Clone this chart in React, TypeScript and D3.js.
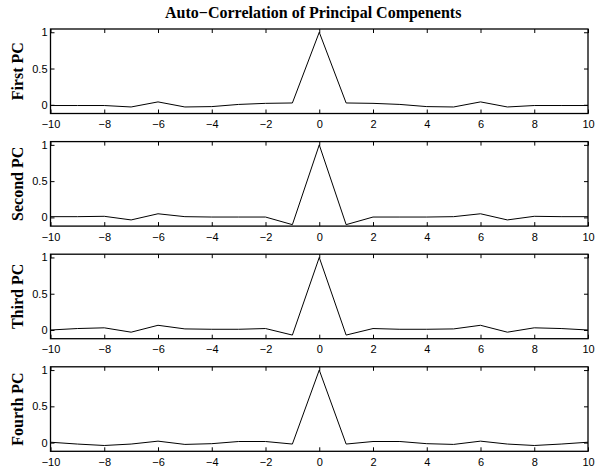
import { useRef, useEffect } from 'react'
import * as d3 from 'd3'

const lags = d3.range(-10, 11)

const panelNames = ['First PC', 'Second PC', 'Third PC', 'Fourth PC']

const firstPC = [-0.01, -0.01, -0.01, -0.03, 0.04, -0.03, -0.025, 0.005, 0.02, 0.025, 1, 0.025, 0.02, 0.005, -0.025, -0.03, 0.04, -0.03, -0.01, -0.01, -0.01]
const secondPC = [0.01, 0.01, 0.015, -0.035, 0.05, 0.01, 0.005, 0.005, 0.005, -0.1, 1, -0.1, 0.005, 0.005, 0.005, 0.01, 0.05, -0.035, 0.015, 0.01, 0.01]
const thirdPC = [0.0, 0.02, 0.03, -0.03, 0.065, 0.015, 0.01, 0.01, 0.02, -0.07, 1, -0.07, 0.02, 0.01, 0.01, 0.015, 0.065, -0.03, 0.03, 0.02, 0.0]
const fourthPC = [0.005, -0.02, -0.04, -0.02, 0.02, -0.025, -0.015, 0.015, 0.015, -0.02, 1, -0.02, 0.015, 0.015, -0.015, -0.025, 0.02, -0.02, -0.04, -0.02, 0.005]

const xTicks = d3.range(-10, 11, 2)
const yTicks = [0, 0.5, 1]

const title = 'Auto\u2212Correlation of Principal Compenents'

const width = 602
const height = 475
const margin = { left: 50.5, right: 14 }
const panelTops = [29, 141.6, 254.2, 366.8]
const panelHeight = 84.5
const tickFont = '"Liberation Sans", Arial, Helvetica, sans-serif'
const serifFont = '"Liberation Serif", "Times New Roman", serif'

function drawPanel(g, values, name) {
  const x = d3.scaleLinear().domain([-10, 10]).range([0, width - margin.left - margin.right])
  const y = d3.scaleLinear().domain([-0.12, 1.045]).range([panelHeight, 0])
  const w = x.range()[1]

  g.selectAll('*').remove()

  const bottom = d3.axisBottom(x).tickValues(xTicks).tickSize(-4).tickPadding(7).tickFormat(d3.format('d'))
  const top = d3.axisTop(x).tickValues(xTicks).tickSize(-4).tickFormat(() => '')
  const left = d3.axisLeft(y).tickValues(yTicks).tickSize(-4).tickPadding(3).tickFormat(d3.format(''))
  const right = d3.axisRight(y).tickValues(yTicks).tickSize(-4).tickFormat(() => '')

  g.append('g').attr('transform', `translate(0,${panelHeight})`).call(bottom)
  g.append('g').call(top)
  g.append('g').call(left)
  g.append('g').attr('transform', `translate(${w},0)`).call(right)

  g.selectAll('.domain').remove()
  g.selectAll('.tick line').attr('stroke', '#000').attr('stroke-width', 1)
  g.selectAll('.tick text').attr('fill', '#000').attr('font-family', tickFont).attr('font-size', 11)

  const line = d3
    .line()
    .x((d, i) => x(lags[i]))
    .y((d) => y(d))

  g.append('path').datum(values).attr('d', line).attr('fill', 'none').attr('stroke', '#000').attr('stroke-width', 1)

  g.append('rect')
    .attr('width', w)
    .attr('height', panelHeight)
    .attr('fill', 'none')
    .attr('stroke', '#000')
    .attr('stroke-width', 1.3)

  g.append('text')
    .attr('transform', `translate(${17 - margin.left},${panelHeight / 2}) rotate(-90)`)
    .attr('text-anchor', 'middle')
    .attr('dy', '0.35em')
    .attr('font-family', serifFont)
    .attr('font-weight', 'bold')
    .attr('font-size', 16)
    .text(name)
}

export default function App() {
  const targetSVG = useRef(null)
  const series = [firstPC, secondPC, thirdPC, fourthPC]

  useEffect(() => {
    const svg = d3.select(targetSVG.current)
    svg.select('.panels').selectAll('*').remove()
    series.forEach((values, i) => {
      const g = svg
        .select('.panels')
        .append('g')
        .attr('transform', `translate(${margin.left},${panelTops[i]})`)
      drawPanel(g, values, panelNames[i])
    })
  }, [])

  return (
    <svg ref={targetSVG} width={width} height={height} style={{ position: 'absolute', left: 0, top: 0, background: '#fff' }}>
      <text
        x={margin.left + (width - margin.left - margin.right) / 2 - 6}
        y={18}
        textAnchor="middle"
        fontFamily={serifFont}
        fontWeight="bold"
        fontSize={16}
      >
        {title}
      </text>
      <g className="panels" />
    </svg>
  )
}
